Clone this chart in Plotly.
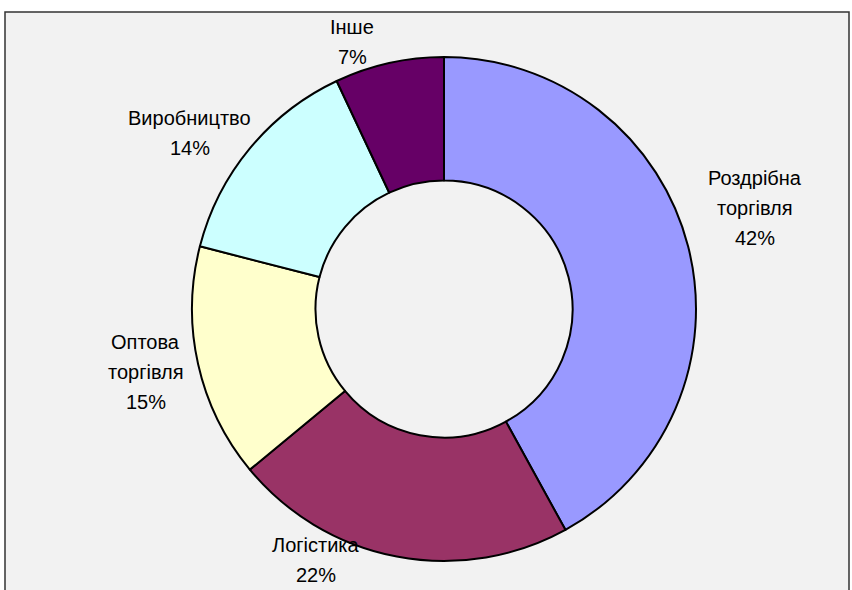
import math
import plotly.graph_objects as go

# Sector shares (%)
categories = ["Роздрібна торгівля", "Логістика", "Оптова торгівля", "Виробництво", "Інше"]
shares = [42, 22, 15, 14, 7]
label_lines = [["Роздрібна", "торгівля"], ["Логістика"], ["Оптова", "торгівля"], ["Виробництво"], ["Інше"]]

colors = ["#9999FF", "#993366", "#FFFFCC", "#CCFFFF", "#660066"]

W, H = 852, 590
cx, cy, R = 444, 309, 252          # donut centre and outer radius (px)
FONT = "Liberation Sans, Arial, sans-serif"
FS = 20
LINE_GAP = 30

# label placement: distance from centre and angular nudge from slice middle
label_dist = [327, 282, 305, 309, 282]
label_nudge = [-3.6, 16.2, 0.6, -4.9, -6.4]

fig = go.Figure()
fig.add_trace(go.Pie(
    labels=categories,
    values=shares,
    hole=0.51,
    sort=False,
    direction="clockwise",
    rotation=0,
    marker=dict(colors=colors, line=dict(color="#000000", width=2)),
    textinfo="none",
    showlegend=False,
    domain=dict(x=[(cx - R) / W, (cx + R) / W], y=[(H - cy - R) / H, (H - cy + R) / H]),
))

annotations = []
total = sum(shares)
cum = 0.0
for i, v in enumerate(shares):
    mid = (cum + v / 2) / total * 360.0
    cum += v
    ang = math.radians(mid + label_nudge[i])
    px = cx + label_dist[i] * math.sin(ang)
    py = cy - label_dist[i] * math.cos(ang)
    lines = label_lines[i] + [f"{round(v / total * 100)}%"]
    n = len(lines)
    for j, t in enumerate(lines):
        ly = py + (j - (n - 1) / 2) * LINE_GAP
        annotations.append(dict(
            x=px / W, y=1 - ly / H, xref="paper", yref="paper",
            text=t, showarrow=False, xanchor="center", yanchor="middle",
            font=dict(family=FONT, size=FS, color="#000000"),
        ))

fig.update_layout(
    width=W, height=H,
    margin=dict(l=0, r=0, t=0, b=0),
    paper_bgcolor="#FFFFFF",
    plot_bgcolor="#FFFFFF",
    shapes=[dict(
        type="rect", xref="paper", yref="paper",
        x0=5 / W, x1=849 / W, y0=-0.1, y1=1 - 12 / H,
        line=dict(color="#333333", width=1.5),
        fillcolor="#F2F2F2", layer="below",
    )],
    annotations=annotations,
)

fig.write_html("out.html")
